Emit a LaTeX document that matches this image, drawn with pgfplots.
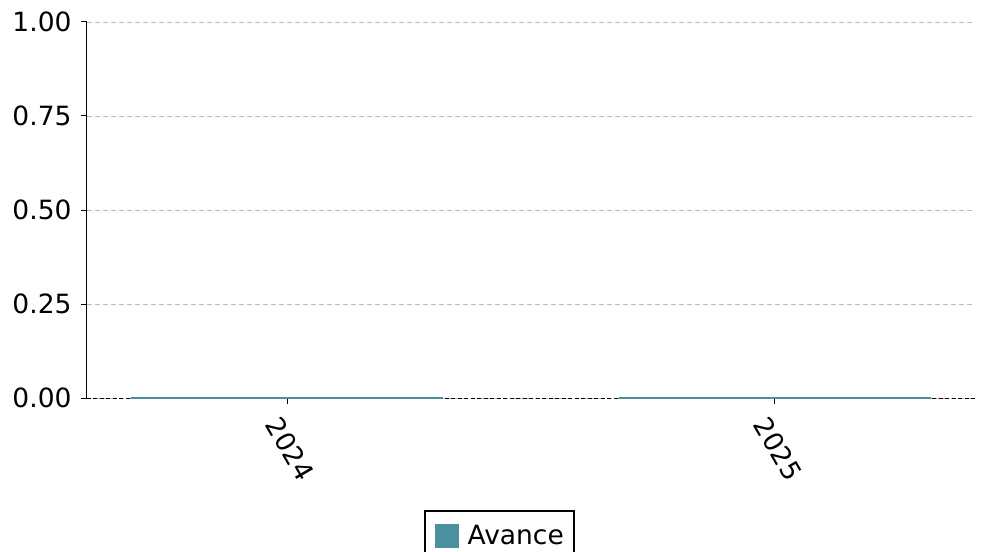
\documentclass[border=0pt]{standalone}
\usepackage{fontspec}
\setmainfont{DejaVu Sans}
\usepackage{pgfplots}
\pgfplotsset{compat=1.18}
\definecolor{barcol}{RGB}{74,145,158}
\begin{document}
\begin{tikzpicture}
\begin{axis}[
    scale only axis,
    width=888bp, height=376bp,
    font=\fontsize{26.5bp}{31bp}\selectfont,
    ybar, bar width=0.64,
    xmin=-0.41, xmax=1.41,
    ymin=0, ymax=1,
    axis x line*=bottom, axis y line*=left,
    x axis line style={draw=none},
    y axis line style={line width=1bp, black},
    xtick={0,1}, xticklabels={2024,2025},
    ytick={0,0.25,0.5,0.75,1},
    tick align=outside, major tick length=6bp,
    tick style={black, line width=1bp},
    /pgf/number format/assume math mode=true,
    yticklabel style={/pgf/number format/.cd, fixed, fixed zerofill, precision=2,
        /tikz/.cd, xshift=-6bp},
    xticklabel style={yshift=-45bp, xshift=3bp, rotate=-60, anchor=center},
    ymajorgrids,
    grid style={gray!55, line width=0.8bp, dash pattern=on 5bp off 3bp},
    legend style={at={(412.5/888,-112/376)}, anchor=north, draw=black,
        line width=2bp, inner xsep=10bp, inner ysep=13bp,
        nodes={inner sep=0bp},
        font=\fontsize{26.5bp}{31bp}\selectfont},
    legend image code/.code={\fill[barcol] (0bp,-11bp) rectangle (22bp,11bp);
        \path (31bp,0bp);},
]
\addplot[black, line width=1bp, dash pattern=on 4bp off 2.5bp, forget plot, sharp plot]
    coordinates {(-0.41,0) (1.41,0)};
\addplot[fill=barcol, draw=barcol, line width=1.5bp]
    coordinates {(0,0) (1,0)};
\legend{Avance}
\end{axis}
\pgfresetboundingbox
\path[use as bounding box] ([xshift=-87bp,yshift=-154bp]current axis.south west)
    rectangle ([xshift=15bp,yshift=22bp]current axis.north east);
\end{tikzpicture}
\end{document}
